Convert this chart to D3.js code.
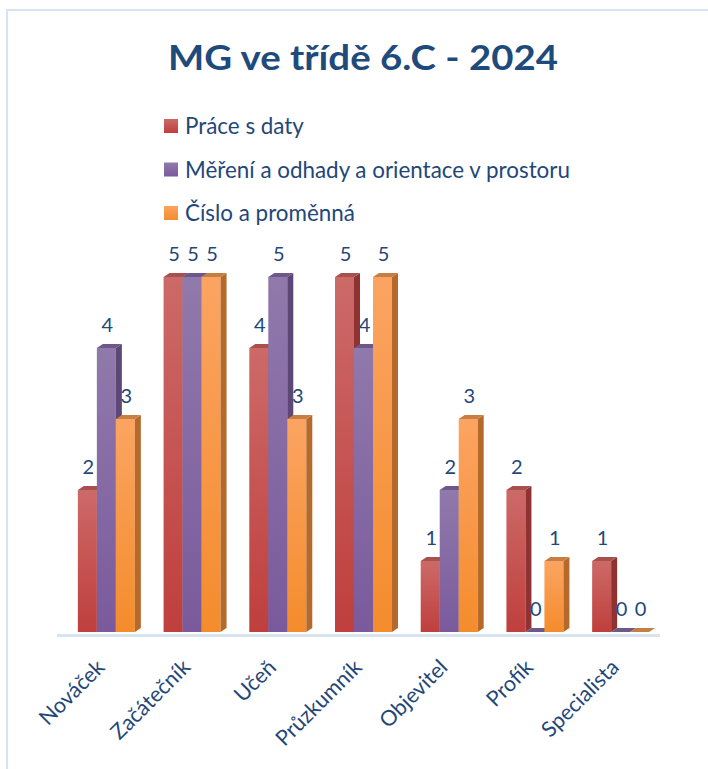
<!DOCTYPE html>
<html><head><meta charset="utf-8">
<script src="https://cdn.jsdelivr.net/npm/d3@7/dist/d3.min.js"></script>
<style>body{margin:0;background:#fff}svg{display:block}</style>
</head><body><svg id="c" width="708" height="769"></svg>
<script>
const categories = ["Nováček","Začátečník","Učeň","Průzkumník","Objevitel","Profík","Specialista"];
const seriesNames = ["Práce s daty","Měření a odhady a orientace v prostoru","Číslo a proměnná"];
const praceSDaty = [2,5,4,5,1,2,1];
const mereni = [4,5,5,4,2,0,0];
const cislo = [3,5,3,5,3,1,0];
const seriesValues = [praceSDaty, mereni, cislo];
const title = "MG ve třídě 6.C - 2024";

const colors = [
  {top:"#cc6a68", bot:"#bf3f3d", side:"#8e3332", cap:"#a8504e"},
  {top:"#9079ab", bot:"#7a5a9c", side:"#5c4775", cap:"#6e5889"},
  {top:"#fba462", bot:"#f48c2c", side:"#b56a2c", cap:"#c77e43"}
];
const txt = "#1f477a";
const FONT = "Lato, 'Open Sans', sans-serif";

const svg = d3.select("#c");
const defs = svg.append("defs");
colors.forEach((c,i)=>{
  const g = defs.append("linearGradient").attr("id","g"+i).attr("x1",0).attr("y1",0).attr("x2",0).attr("y2",1);
  g.append("stop").attr("offset","0%").attr("stop-color",c.top);
  g.append("stop").attr("offset","100%").attr("stop-color",c.bot);
});

// chart border
svg.append("rect").attr("x",7).attr("y",10).attr("width",760).attr("height",800)
  .attr("fill","none").attr("stroke","#d5e3f4").attr("stroke-width",2);

svg.append("text").attr("x",168).attr("y",70)
  .attr("textLength",390).attr("lengthAdjust","spacingAndGlyphs")
  .attr("font-family",FONT).attr("font-weight","bold").attr("font-size",35)
  .attr("fill","#1f4a7c").text(title);

// legend
const lg = svg.append("g");
seriesNames.forEach((s,i)=>{
  const y = 126 + i*43.5;
  lg.append("rect").attr("x",164).attr("y",y-7).attr("width",14).attr("height",14).attr("fill","url(#g"+i+")");
  lg.append("text").attr("x",185).attr("y",y+8).attr("font-family",FONT).attr("font-size",22.4)
    .attr("fill",txt).text(s);
});

const x = d3.scaleBand().domain(categories).range([63.5,663.5]).paddingInner(0.335).paddingOuter(0.1675);
const xs = d3.scaleBand().domain(d3.range(3)).range([0, x.bandwidth()]);
const y = d3.scaleLinear().domain([0,5]).range([632,277]);
const dx = 6, dy = 4;

// floor / axis line
svg.append("line").attr("x1",57).attr("x2",660).attr("y1",635.5).attr("y2",635.5)
  .attr("stroke","#d9e4f2").attr("stroke-width",3);

const bars = svg.append("g");
categories.forEach((cat,ci)=>{
  seriesValues.forEach((vals,si)=>{
    const v = vals[ci];
    const x0 = x(cat) + xs(si), w = xs.bandwidth();
    const yt = y(v), yb = y(0);
    const c = colors[si];
    const g = bars.append("g");
    if (v > 0) {
      g.append("rect").attr("x",x0).attr("y",yt).attr("width",w).attr("height",yb-yt).attr("fill","url(#g"+si+")");
      g.append("path").attr("d",`M${x0+w},${yt}L${x0+w+dx},${yt-dy}L${x0+w+dx},${yb-dy}L${x0+w},${yb}Z`).attr("fill",c.side);
    }
    g.append("path").attr("d",`M${x0},${yt}L${x0+dx},${yt-dy}L${x0+w+dx},${yt-dy}L${x0+w},${yt}Z`).attr("fill",c.cap);
    svg.append("text").attr("x",x0+w/2+1).attr("y",yt-16).attr("text-anchor","middle")
      .attr("font-family",FONT).attr("font-size",20).attr("fill",txt).text(v);
  });
});

// category labels
categories.forEach(cat=>{
  const cx = x(cat) + x.bandwidth()/2 - 11;
  svg.append("text").attr("transform",`translate(${cx},${658}) rotate(-45)`)
    .attr("text-anchor","end").attr("dy","0.7em").attr("font-family",FONT).attr("font-size",21.5)
    .attr("fill",txt).text(cat);
});
</script></body></html>
